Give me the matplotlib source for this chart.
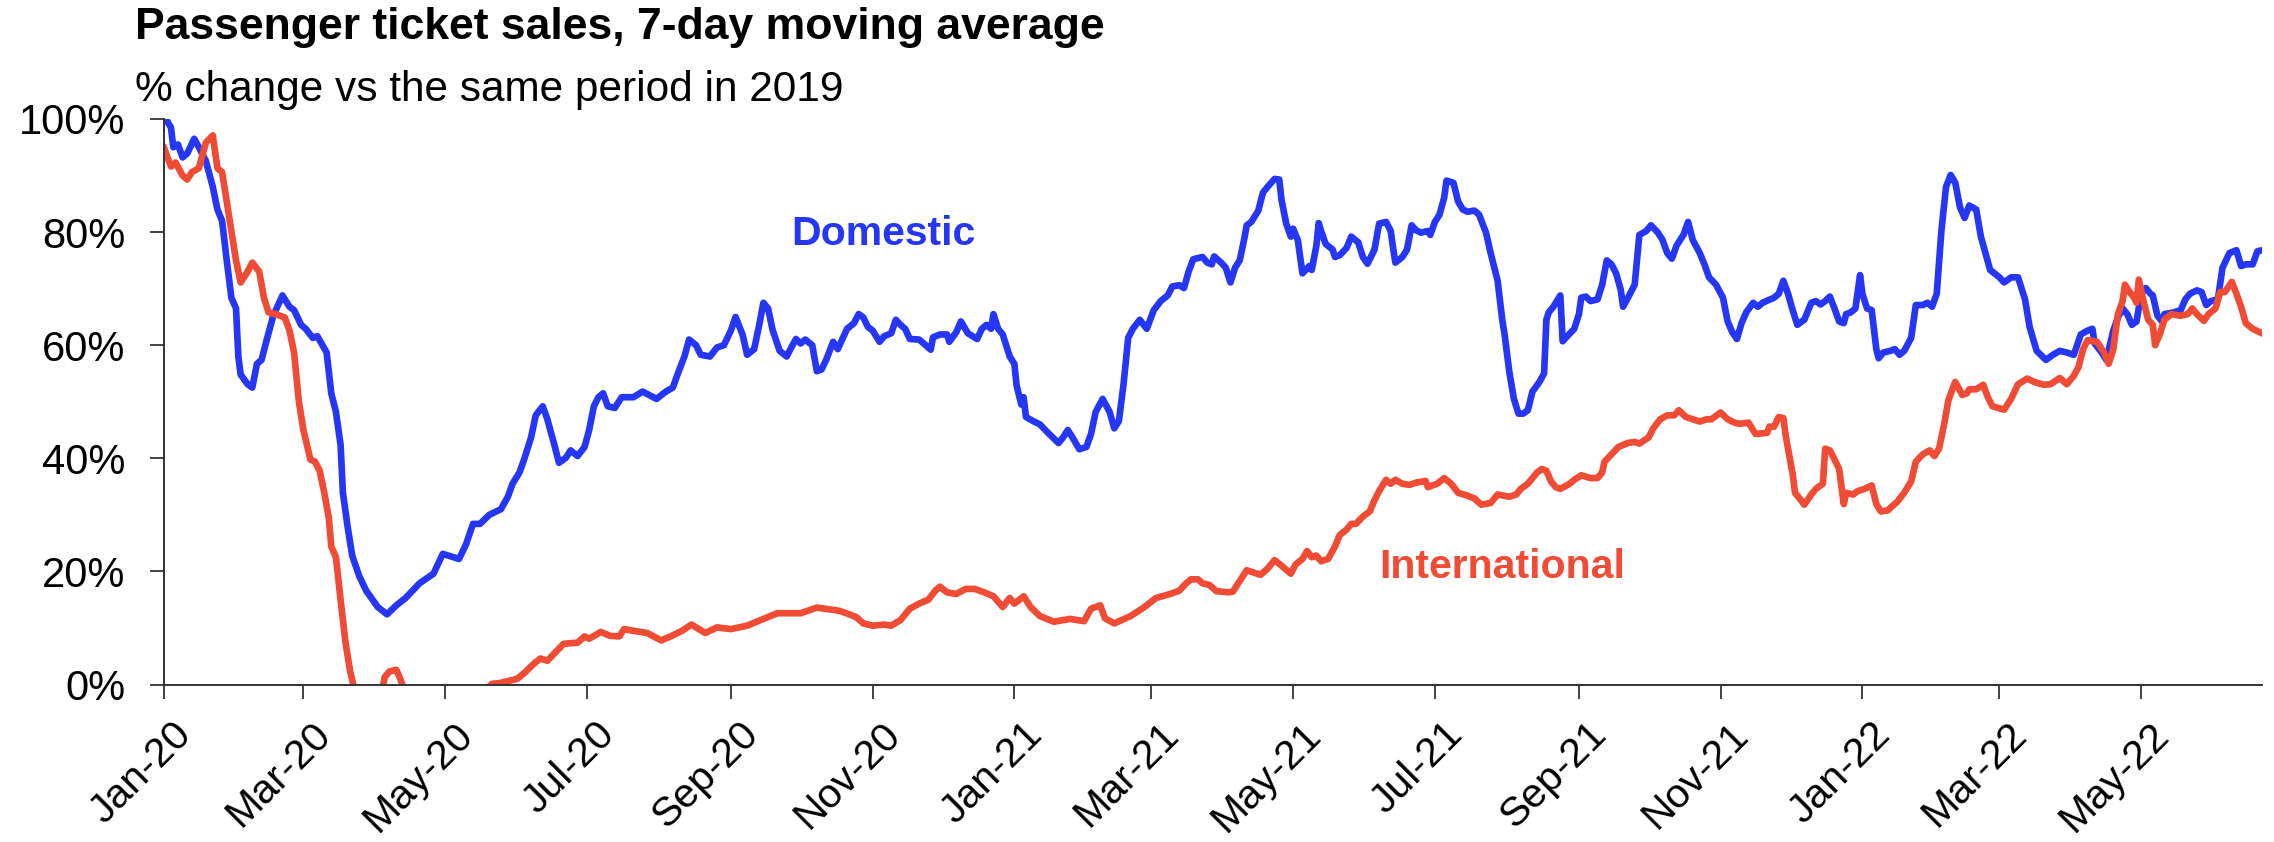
import numpy as np
import matplotlib
matplotlib.use("Agg")
import matplotlib.pyplot as plt
import matplotlib.dates as mdates
import matplotlib.transforms as mtransforms
from matplotlib.ticker import FuncFormatter

# days since 2020-01-01, values in % vs 2019
dom_days = [0, 3, 4, 6, 8, 10, 13, 15, 18, 21, 23, 25, 27, 29, 31, 32, 33, 36, 38, 40,
            42, 44, 47, 51, 54, 56, 59, 61, 64, 66, 70, 72, 74, 76, 77, 79, 81, 84, 87, 92,
            96, 100, 104, 110, 116, 120, 127, 130, 133, 136, 140, 145, 148, 150, 153, 155, 158, 160, 163, 165,
            168, 170, 173, 175, 178, 181, 183, 185, 187, 189, 191, 194, 197, 202, 206, 212, 216, 219, 221, 224,
            226, 229, 231, 235, 238, 241, 244, 246, 249, 251, 254, 256, 258, 260, 262, 265, 268, 270, 272, 274,
            276, 279, 281, 283, 285, 288, 290, 294, 297, 299, 301, 303, 305, 308, 310, 313, 315, 317, 319, 321,
            325, 327, 330, 331, 334, 337, 338, 341, 343, 346, 348, 350, 352, 354, 356, 357, 359, 361, 364, 366,
            367, 369, 370, 371, 374, 377, 380, 383, 385, 387, 389, 391, 394, 397, 399, 401, 404, 407, 409, 411,
            413, 415, 417, 420, 423, 426, 429, 432, 434, 437, 439, 441, 443, 447, 449, 451, 452, 455, 457, 459,
            461, 463, 465, 466, 468, 471, 473, 475, 478, 480, 481, 483, 485, 486, 488, 489, 490, 493, 494, 496,
            497, 498, 500, 503, 504, 506, 509, 511, 514, 516, 518, 521, 523, 526, 528, 529, 530, 533, 535, 537,
            539, 541, 544, 545, 547, 549, 551, 552, 555, 557, 559, 561, 564, 566, 569, 571, 574, 576, 577, 579,
            581, 583, 585, 587, 589, 592, 594, 595, 596, 598, 601, 602, 604, 607, 609, 610, 612, 614, 617, 619,
            621, 623, 625, 627, 628, 631, 633, 635, 638, 640, 643, 645, 647, 649, 651, 653, 654, 656, 658, 661,
            663, 665, 668, 671, 673, 675, 677, 679, 681, 684, 686, 688, 693, 695, 697, 699, 701, 703, 706, 709,
            711, 713, 715, 717, 719, 721, 723, 724, 726, 728, 730, 731, 733, 735, 737, 738, 740, 743, 745, 747,
            749, 752, 754, 757, 759, 761, 763, 765, 767, 769, 771, 773, 775, 777, 780, 782, 786, 790, 792, 795,
            798, 801, 803, 806, 810, 813, 816, 819, 822, 825, 828, 830, 831, 834, 836, 839, 841, 843, 845, 847,
            849, 851, 853, 855, 856, 858, 860, 861, 865, 868, 870, 872, 875, 877, 879, 881, 884, 886, 889, 892,
            894, 896, 899, 901, 903]
dom_vals = [100.5, 98.5, 95.0, 95.5, 93.2, 93.9, 96.5, 95.0, 92.6, 88.0, 84.0, 82.0, 75.0, 68.4, 66.5, 58.0, 54.8, 53.1, 52.5, 56.7,
            57.4, 60.6, 65.2, 68.8, 66.8, 66.2, 63.6, 62.9, 61.3, 61.6, 58.7, 51.5, 48.2, 42.4, 33.9, 28.0, 22.8, 19.2, 16.6, 13.7,
            12.4, 14.0, 15.3, 17.9, 19.6, 23.1, 22.2, 24.8, 28.4, 28.4, 30.0, 31.0, 33.2, 35.5, 37.5, 39.8, 43.7, 47.6, 49.2, 46.9,
            42.4, 39.2, 40.1, 41.4, 40.4, 42.0, 45.0, 49.2, 50.8, 51.5, 49.2, 48.9, 50.8, 50.8, 51.8, 50.5, 51.8, 52.5, 54.8, 58.0,
            61.0, 60.0, 58.3, 58.0, 59.6, 60.0, 62.6, 65.0, 61.9, 58.3, 59.3, 63.2, 67.5, 66.5, 62.6, 59.0, 58.0, 59.6, 61.1, 60.3,
            61.0, 60.0, 55.4, 55.7, 57.4, 60.6, 59.3, 62.9, 63.9, 65.5, 64.9, 63.2, 62.6, 60.6, 61.6, 62.1, 64.5, 63.6, 62.9, 61.1,
            61.0, 60.3, 59.2, 61.4, 61.9, 61.9, 60.6, 62.3, 64.2, 62.1, 61.6, 61.1, 62.9, 63.6, 62.9, 65.5, 62.9, 61.9, 58.0, 56.7,
            52.8, 49.5, 50.8, 47.3, 46.6, 46.0, 44.7, 43.5, 42.7, 43.7, 45.0, 43.7, 41.6, 42.0, 44.3, 48.2, 50.5, 48.2, 45.3, 46.6,
            53.1, 61.3, 62.9, 64.5, 62.9, 66.2, 67.8, 68.8, 70.4, 70.6, 70.1, 73.0, 75.2, 75.6, 74.6, 74.3, 75.7, 74.6, 73.7, 71.1,
            73.7, 75.0, 78.9, 81.2, 81.8, 83.8, 87.0, 88.0, 89.4, 89.3, 85.7, 81.5, 79.2, 80.6, 78.6, 75.6, 72.7, 74.0, 73.3, 77.6,
            81.6, 80.2, 77.9, 76.9, 75.6, 75.9, 77.2, 79.2, 78.2, 75.6, 74.4, 76.9, 81.5, 81.8, 80.2, 77.2, 74.6, 75.6, 76.9, 81.2,
            80.3, 79.9, 80.2, 79.5, 81.8, 83.1, 86.1, 89.1, 88.7, 85.4, 84.0, 83.6, 83.8, 83.1, 79.9, 76.3, 71.4, 64.5, 61.9, 55.4,
            50.5, 47.9, 47.9, 48.5, 51.8, 53.5, 55.0, 64.5, 65.8, 66.8, 68.8, 60.7, 61.6, 62.9, 65.5, 68.4, 68.6, 67.8, 68.1, 70.7,
            75.0, 74.3, 72.7, 69.8, 66.8, 69.1, 70.7, 79.5, 80.2, 81.2, 79.9, 78.6, 76.3, 75.3, 77.6, 78.9, 79.5, 81.8, 78.6, 76.3,
            74.3, 72.0, 70.7, 68.4, 64.2, 62.3, 61.1, 63.9, 65.8, 67.5, 66.8, 67.5, 68.4, 69.1, 71.4, 69.1, 66.2, 63.6, 64.5, 67.5,
            67.8, 67.2, 67.8, 68.6, 66.5, 64.2, 63.9, 65.5, 65.8, 66.5, 72.4, 69.1, 66.5, 66.2, 59.3, 57.7, 58.7, 59.0, 59.3, 58.3,
            59.0, 61.3, 67.1, 67.1, 67.5, 66.8, 69.1, 80.2, 88.0, 90.1, 88.7, 84.4, 82.5, 84.7, 84.0, 79.2, 73.3, 72.0, 71.1, 72.0,
            72.0, 68.1, 63.2, 59.0, 57.4, 58.3, 59.0, 58.7, 58.3, 61.9, 62.6, 62.9, 60.3, 58.7, 57.4, 62.6, 64.9, 66.5, 65.5, 63.6,
            64.2, 69.1, 70.1, 69.1, 68.8, 65.2, 64.2, 65.5, 65.8, 66.2, 68.1, 69.1, 69.7, 69.4, 67.1, 67.8, 68.1, 73.7, 76.3, 76.8,
            74.0, 74.3, 74.3, 76.6, 76.8]

int_days = [0, 3, 5, 8, 10, 12, 15, 18, 21, 23, 25, 28, 31, 33, 36, 38, 41, 43, 45, 48,
            52, 54, 56, 58, 60, 63, 65, 67, 69, 71, 72, 74, 76, 78, 80, 82, 86, 92, 95, 97,
            100, 102, 104, 112, 128, 138, 141, 145, 149, 152, 155, 159, 162, 165, 169, 172, 178, 181, 183, 188,
            192, 196, 198, 202, 208, 214, 218, 223, 227, 233, 238, 244, 251, 258, 264, 274, 281, 288, 291, 295,
            298, 301, 305, 310, 313, 317, 321, 325, 329, 332, 334, 337, 341, 345, 349, 353, 357, 361, 364, 366,
            370, 373, 377, 383, 390, 396, 399, 403, 405, 409, 416, 422, 427, 433, 437, 440, 442, 445, 447, 450,
            453, 458, 460, 463, 466, 472, 475, 478, 481, 485, 487, 490, 492, 494, 496, 498, 501, 504, 506, 509,
            511, 513, 516, 519, 521, 523, 526, 528, 530, 533, 536, 539, 543, 544, 548, 551, 554, 557, 561, 564,
            567, 571, 574, 579, 582, 584, 587, 589, 591, 593, 595, 597, 599, 601, 605, 607, 610, 614, 617, 619,
            620, 623, 626, 630, 633, 635, 639, 641, 644, 647, 650, 652, 655, 658, 661, 664, 666, 670, 673, 676,
            678, 682, 685, 690, 691, 693, 695, 697, 698, 699, 701, 702, 704, 706, 709, 711, 714, 715, 717, 719,
            721, 723, 724, 727, 729, 732, 735, 737, 739, 742, 744, 746, 749, 752, 754, 757, 760, 762, 764, 766,
            768, 770, 771, 774, 776, 777, 780, 783, 785, 787, 792, 795, 798, 802, 805, 809, 812, 816, 819, 822,
            824, 826, 828, 832, 835, 837, 839, 841, 843, 844, 846, 848, 849, 850, 852, 854, 856, 857, 859, 861,
            864, 868, 871, 873, 875, 878, 880, 883, 885, 887, 890, 892, 894, 896, 899, 903]
int_vals = [94.9, 91.6, 92.3, 90.0, 89.3, 90.6, 91.3, 95.8, 97.1, 91.3, 90.6, 82.8, 75.0, 71.1, 73.0, 74.6, 73.0, 68.4, 65.8, 65.5,
            64.9, 62.6, 58.7, 50.2, 45.0, 39.8, 39.4, 37.8, 33.9, 29.3, 24.4, 22.5, 15.0, 7.8, 2.6, -1.0, -8.0, -5.0, 1.3, 2.3,
            2.6, 0.7, -2.0, -10.0, -6.0, -1.5, 0.1, 0.3, 0.7, 1.0, 2.0, 3.6, 4.6, 4.2, 5.9, 7.2, 7.4, 8.5, 8.1, 9.3,
            8.6, 8.5, 9.8, 9.5, 9.1, 7.8, 8.5, 9.5, 10.6, 9.1, 10.1, 9.8, 10.4, 11.6, 12.6, 12.6, 13.6, 13.2, 13.0, 12.4,
            11.9, 10.8, 10.4, 10.6, 10.4, 11.4, 13.4, 14.3, 15.0, 16.6, 17.3, 16.3, 16.0, 16.9, 16.9, 16.3, 15.6, 13.7, 15.3, 14.3,
            15.6, 13.7, 12.1, 11.1, 11.6, 11.2, 13.4, 14.0, 11.7, 10.8, 12.1, 13.7, 15.3, 16.0, 16.6, 17.9, 18.6, 18.6, 17.9, 17.6,
            16.5, 16.3, 16.4, 18.3, 20.2, 19.4, 20.5, 22.0, 21.0, 19.6, 21.2, 22.2, 23.6, 22.5, 22.8, 21.8, 22.2, 24.4, 26.4, 27.4,
            28.4, 28.4, 29.7, 30.6, 32.6, 34.2, 36.2, 35.5, 36.2, 35.5, 35.3, 35.7, 36.0, 34.9, 35.5, 36.5, 35.5, 33.9, 33.4, 32.9,
            31.8, 32.1, 33.6, 33.2, 33.6, 34.6, 35.5, 36.5, 37.5, 38.1, 37.8, 35.9, 34.9, 34.6, 35.5, 36.2, 37.0, 36.5, 36.5, 37.5,
            39.4, 40.7, 42.0, 42.7, 42.9, 42.6, 43.7, 45.3, 46.9, 47.6, 47.6, 48.5, 47.3, 46.9, 46.5, 46.9, 46.9, 48.1, 46.9, 46.3,
            46.1, 46.3, 44.3, 44.5, 45.6, 45.6, 47.3, 47.1, 44.0, 41.7, 37.2, 33.9, 32.9, 31.8, 33.6, 34.6, 35.5, 41.7, 41.4, 39.8,
            38.1, 31.9, 33.9, 33.6, 34.2, 34.6, 35.2, 31.9, 30.6, 30.8, 31.6, 32.3, 33.9, 35.9, 39.4, 40.7, 41.4, 40.4, 41.7, 45.6,
            50.2, 52.5, 53.5, 51.2, 51.5, 52.2, 52.2, 53.0, 50.8, 49.2, 48.6, 50.5, 53.1, 54.1, 53.5, 53.0, 53.1, 54.2, 53.1, 54.6,
            56.1, 59.3, 60.9, 60.6, 58.7, 56.7, 59.3, 65.5, 67.8, 70.7, 69.4, 68.4, 67.5, 71.6, 67.8, 64.5, 63.6, 60.0, 61.9, 64.5,
            65.5, 65.2, 65.5, 66.5, 65.5, 64.3, 65.5, 66.5, 69.4, 69.4, 71.2, 69.1, 66.8, 63.9, 62.9, 62.1]

start = np.datetime64("2020-01-01")
dom_x = start + np.array(dom_days, dtype="timedelta64[D]")
int_x = start + np.array(int_days, dtype="timedelta64[D]")

blue = "#2636f5"
red = "#f04b35"

plt.rcParams["font.family"] = ["Liberation Sans", "DejaVu Sans"]

fig = plt.figure(figsize=(22.74, 8.42), dpi=100)
ax = fig.add_axes([164 / 2274, 1 - 684.5 / 842, (2262 - 164) / 2274, (684.5 - 119) / 842])

ax.plot(dom_x, dom_vals, color=blue, lw=4.8, solid_joinstyle="round")
ax.plot(int_x, int_vals, color=red, lw=4.8, solid_joinstyle="round")

ax.set_ylim(0, 100)
ax.set_xlim(start, start + np.timedelta64(903, "D"))
ax.set_yticks([0, 20, 40, 60, 80, 100])
ax.yaxis.set_major_formatter(FuncFormatter(lambda v, p: f"{v:.0f}%"))
ax.xaxis.set_major_locator(mdates.MonthLocator(bymonth=[1, 3, 5, 7, 9, 11]))
ax.xaxis.set_major_formatter(mdates.DateFormatter("%b-%y"))

for s in ["top", "right"]:
    ax.spines[s].set_visible(False)
for s in ["left", "bottom"]:
    ax.spines[s].set_color("#333333")
    ax.spines[s].set_linewidth(1.4)

ax.tick_params(axis="y", length=10, width=1.3, color="#333333", labelsize=30, pad=18)
ax.tick_params(axis="x", length=10, width=1.3, color="#333333", labelsize=29.5, pad=12)
shift = mtransforms.ScaledTranslation(8 / 100, 0, fig.dpi_scale_trans)
for lab in ax.get_xticklabels():
    lab.set_rotation(45)
    lab.set_ha("right")
    lab.set_va("top")
    lab.set_rotation_mode("anchor")
    lab.set_transform(lab.get_transform() + shift)

ax.text(start + np.timedelta64(270, "D"), 77.7, "Domestic", color=blue,
        fontsize=29.5, fontweight="bold", va="baseline", ha="left")
ax.text(start + np.timedelta64(523, "D"), 18.8, "International", color=red,
        fontsize=29.5, fontweight="bold", va="baseline", ha="left")

fig.text(135 / 2274, 1 - 39 / 842, "Passenger ticket sales, 7-day moving average",
         fontsize=32, fontweight="bold", va="baseline", ha="left")
fig.text(135 / 2274, 1 - 101.5 / 842, "% change vs the same period in 2019",
         fontsize=30.5, va="baseline", ha="left")

fig.savefig("out.png", dpi=100)
